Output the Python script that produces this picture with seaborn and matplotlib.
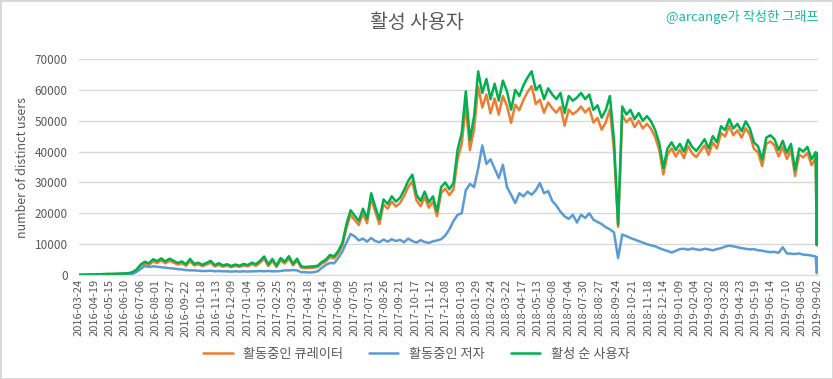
import numpy as np
import pandas as pd
import seaborn as sns
import matplotlib.pyplot as plt

# weekly readings from 2016-03-24, plus the last two days; values in thousands of users
start_date = "2016-03-24"
extra_dates = ["2019-08-31", "2019-09-02"]

curators = [
    0.05, 0.07, 0.1, 0.13, 0.18, 0.22, 0.27, 0.3, 0.3, 0.35, 0.4, 0.45, 0.5, 0.8,
    1.6, 3.0, 3.6, 3.3, 4.4, 3.9, 4.7, 3.8, 4.6, 4.0, 3.4, 3.8, 3.0, 4.5, 3.1, 3.5,
    2.9, 3.4, 4.0, 2.8, 3.3, 2.7, 3.1, 2.5, 3.0, 2.6, 3.1, 2.8, 3.5, 3.0, 4.0, 5.3,
    2.9, 4.6, 2.6, 4.8, 3.7, 5.4, 3.1, 4.6, 2.4, 2.2, 2.3, 2.4, 2.6, 3.7, 4.4, 5.8,
    5.4, 7.0, 9.5, 15.2, 19.6, 17.8, 16.2, 20.0, 16.8, 24.8, 20.5, 16.5, 22.9, 21.5, 23.8, 22.2,
    23.3, 25.6, 28.5, 30.4, 24.2, 22.3, 25.2, 21.8, 23.8, 19.0, 26.6, 28.0, 25.9, 27.7, 37.6, 42.5,
    55.0, 40.5, 47.3, 61.0, 54.3, 58.5, 52.4, 57.2, 52.0, 58.0, 54.8, 49.3, 55.2, 53.4, 56.8, 59.3,
    61.2, 55.4, 56.8, 52.6, 55.9, 54.0, 52.6, 54.5, 48.4, 53.6, 52.1, 53.1, 54.6, 52.7, 54.1, 49.4,
    50.9, 47.1, 49.5, 53.7, 40.5, 15.6, 51.8, 49.5, 50.9, 47.9, 50.0, 47.5, 49.0, 47.4, 44.7, 40.5,
    32.6, 39.1, 41.0, 38.4, 40.6, 37.9, 41.8, 39.4, 38.2, 40.1, 42.0, 38.9, 43.0, 41.0, 46.0, 44.9,
    48.3, 45.3, 46.9, 44.5, 47.6, 45.4, 40.9, 39.7, 35.3, 42.5, 43.3, 42.0, 38.4, 41.5, 37.6, 40.5,
    32.1, 39.0, 38.1, 39.6, 35.6, 37.9,
    9.6, 37.6,
]

authors = [
    0.0, 0.0, 0.0, 0.02, 0.05, 0.05, 0.08, 0.1, 0.1, 0.1, 0.12, 0.15, 0.2, 0.4,
    1.0, 2.0, 2.9, 2.6, 2.8, 2.7, 2.5, 2.4, 2.2, 2.1, 1.9, 1.8, 1.6, 1.5, 1.5, 1.4,
    1.3, 1.3, 1.4, 1.2, 1.3, 1.2, 1.2, 1.1, 1.2, 1.1, 1.2, 1.1, 1.2, 1.2, 1.3, 1.2,
    1.3, 1.2, 1.2, 1.3, 1.5, 1.5, 1.6, 1.5, 0.9, 0.9, 0.8, 0.9, 1.2, 2.3, 3.3, 3.9,
    3.8, 5.5, 7.6, 10.5, 13.3, 12.5, 11.2, 11.8, 10.8, 12.0, 11.0, 10.6, 11.5, 10.8, 11.6, 11.0,
    11.4, 10.6, 11.8, 11.0, 10.5, 11.3, 10.7, 10.4, 10.9, 11.2, 11.6, 12.8, 14.8, 17.5, 19.5, 20.0,
    27.5, 29.5, 28.5, 34.5, 42.0, 36.0, 37.5, 34.5, 31.4, 35.7, 28.5, 26.0, 23.3, 26.5, 25.5, 27.0,
    26.0, 27.5, 29.8, 26.5, 27.2, 24.0, 22.5, 20.5, 19.0, 18.2, 19.5, 17.0, 19.5, 18.5, 20.0, 17.9,
    17.2, 16.5, 15.5, 14.8, 13.8, 5.5, 13.1, 12.6, 12.0, 11.5, 11.0, 10.5, 10.0, 9.6, 9.3, 8.7,
    8.2, 7.8, 7.3, 7.8, 8.4, 8.5, 8.2, 8.6, 8.3, 8.1, 8.5, 8.3, 8.0, 8.4, 8.7, 9.2,
    9.5, 9.3, 9.0, 8.7, 8.5, 8.3, 8.4, 8.0, 7.9, 7.6, 7.4, 7.5, 7.2, 9.0, 7.0, 6.9,
    6.8, 7.0, 6.6, 6.5, 6.3, 6.0,
    0.6, 5.8,
]

active = [
    0.05, 0.08, 0.1, 0.15, 0.2, 0.25, 0.3, 0.35, 0.35, 0.4, 0.45, 0.5, 0.6, 0.9,
    1.8, 3.4, 4.3, 3.8, 5.1, 4.5, 5.4, 4.4, 5.3, 4.6, 3.9, 4.4, 3.5, 5.2, 3.6, 4.0,
    3.3, 3.9, 4.6, 3.2, 3.8, 3.1, 3.5, 2.9, 3.4, 3.0, 3.6, 3.2, 4.0, 3.5, 4.6, 6.0,
    3.4, 5.2, 3.0, 5.5, 4.3, 6.1, 3.6, 5.3, 2.8, 2.6, 2.7, 2.8, 3.0, 4.2, 5.0, 6.5,
    6.0, 7.8, 10.4, 16.5, 21.0, 19.2, 17.5, 21.5, 18.2, 26.5, 22.0, 18.0, 24.5, 23.0, 25.5, 23.8,
    25.0, 27.5, 30.5, 32.5, 26.0, 24.0, 27.0, 23.5, 25.5, 20.6, 28.5, 30.0, 27.8, 29.8, 40.6, 46.0,
    59.5, 43.8, 51.4, 66.0, 59.0, 63.5, 57.0, 62.0, 56.5, 63.0, 59.5, 53.6, 60.0, 58.0, 61.5, 64.0,
    66.0, 60.0, 61.5, 57.0, 60.5, 58.5, 57.0, 59.0, 52.5, 58.0, 56.5, 57.5, 59.0, 57.0, 58.5, 53.5,
    55.0, 51.0, 53.5, 58.0, 43.8, 16.3, 54.6, 52.0, 53.5, 50.5, 52.5, 50.0, 51.5, 49.8, 47.0, 42.7,
    34.7, 41.0, 43.0, 40.5, 42.5, 40.0, 43.8, 41.5, 40.2, 42.0, 44.0, 41.0, 45.0, 43.0, 48.2, 47.0,
    50.5, 47.5, 49.0, 46.6, 49.8, 47.5, 43.0, 41.7, 37.4, 44.5, 45.3, 44.0, 40.5, 43.5, 39.6, 42.5,
    34.0, 41.0, 40.0, 41.5, 37.5, 39.8,
    9.8, 39.5,
]

tick_labels = [
    "2016-03-24", "2016-04-19", "2016-05-15", "2016-06-10", "2016-07-06", "2016-08-01",
    "2016-08-27", "2016-09-22", "2016-10-18", "2016-11-13", "2016-12-09", "2017-01-04",
    "2017-01-30", "2017-02-25", "2017-03-23", "2017-04-18", "2017-05-14", "2017-06-09",
    "2017-07-05", "2017-07-31", "2017-08-26", "2017-09-21", "2017-10-17", "2017-11-12",
    "2017-12-08", "2018-01-03", "2018-01-29", "2018-02-24", "2018-03-22", "2018-04-17",
    "2018-05-13", "2018-06-08", "2018-07-04", "2018-07-30", "2018-08-27", "2018-09-24",
    "2018-10-21", "2018-11-18", "2018-12-14", "2019-01-09", "2019-02-04", "2019-03-02",
    "2019-03-28", "2019-04-23", "2019-05-19", "2019-06-14", "2019-07-10", "2019-08-05",
    "2019-09-02",
]

series_names = ["활동중인 큐레이터", "활동중인 저자", "활성 순 사용자"]
colors = ["#ED7D31", "#5B9BD5", "#00B050"]

dates = list(pd.date_range(start_date, periods=len(active) - len(extra_dates), freq="7D"))
dates += list(pd.to_datetime(extra_dates))

wide = pd.DataFrame({
    "date": dates,
    series_names[0]: np.array(curators) * 1000,
    series_names[1]: np.array(authors) * 1000,
    series_names[2]: np.array(active) * 1000,
})
df = wide.melt(id_vars="date", var_name="series", value_name="users")

sns.set_style("white")
plt.rcParams["font.family"] = ["Noto Sans CJK KR", "DejaVu Sans"]

fig = plt.figure(figsize=(8.33, 3.79), dpi=100)
fig.patch.set_edgecolor("#d9d9d9")
fig.patch.set_linewidth(2)
ax = fig.add_axes([0.0948, 0.2744, 0.8872, 0.5699])

sns.lineplot(data=df, x="date", y="users", hue="series", hue_order=series_names,
             palette=colors, linewidth=1.8, ax=ax)

ax.set_ylim(0, 70000)
ax.set_yticks(range(0, 70001, 10000))
ax.set_xlim(pd.Timestamp(tick_labels[0]), pd.Timestamp(tick_labels[-1]))
ax.set_xticks(pd.to_datetime(tick_labels))
ax.set_xticklabels(tick_labels, rotation=90, fontsize=8, color="#595959")
ax.tick_params(axis="y", labelsize=8.5, labelcolor="#595959", length=0, pad=8)
ax.tick_params(axis="x", length=0, pad=3)
ax.yaxis.grid(True, color="#d9d9d9", linewidth=1)
ax.set_axisbelow(True)
for side in ["left", "right", "top"]:
    ax.spines[side].set_visible(False)
ax.spines["bottom"].set_color("#d9d9d9")
ax.set_xlabel("")
ax.set_ylabel("number of distinct users", fontsize=9, color="#595959")

fig.text(0.5, 0.94, "활성 사용자", ha="center", va="center", fontsize=14, color="#595959")
fig.text(0.982, 0.955, "@arcange가 작성한 그래프", ha="right", va="center",
         fontsize=9.5, color="#1ABC9C")

sns.move_legend(ax, "center", bbox_to_anchor=(0.5, 0.065), bbox_transform=fig.transFigure,
                ncol=3, frameon=False, title=None, fontsize=9.5, handlelength=2.2,
                columnspacing=2.0, labelcolor="#595959")

plt.savefig("out.png", dpi=100, edgecolor=fig.get_edgecolor())
